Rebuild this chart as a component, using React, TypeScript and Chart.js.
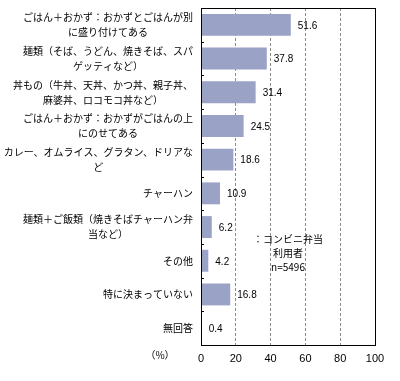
import React, { useEffect, useRef } from "react";
import { Chart, registerables } from "chart.js";

Chart.register(...registerables);

const categories: string[][] = [
  ["ごはん＋おかず：おかずとごはんが別", "に盛り付けてある"],
  ["麺類（そば、うどん、焼きそば、スパ", "ゲッティなど）"],
  ["丼もの（牛丼、天丼、かつ丼、親子丼、", "麻婆丼、ロコモコ丼など）"],
  ["ごはん＋おかず：おかずがごはんの上", "にのせてある"],
  ["カレー、オムライス、グラタン、ドリアな", "ど"],
  ["チャーハン"],
  ["麺類＋ご飯類（焼きそばチャーハン弁", "当など）"],
  ["その他"],
  ["特に決まっていない"],
  ["無回答"],
];
const values: number[] = [51.6, 37.8, 31.4, 24.5, 18.6, 10.9, 6.2, 4.2, 16.8, 0.4];
const xTicks: number[] = [0, 20, 40, 60, 80, 100];
const legendLines: string[] = ["：コンビニ弁当", "利用者", "n=5496"];
const unitLabel = "（%）";

const CJK = '"Noto Sans CJK JP", sans-serif';

const customDraw = {
  id: "customDraw",
  afterDraw(chart: any) {
    const ctx = chart.ctx;
    const area = chart.chartArea;
    const y = chart.scales.y;
    const x = chart.scales.x;
    ctx.save();
    // category labels
    ctx.font = `10px ${CJK}`;
    ctx.fillStyle = "#000";
    ctx.textBaseline = "middle";
    ctx.textAlign = "center";
    const rightEdge = area.left - 8;
    const lineH = 15;
    categories.forEach((lines, i) => {
      const cy = y.getPixelForTick(i);
      const w = Math.max(...lines.map((l) => ctx.measureText(l).width));
      const cx = rightEdge - w / 2;
      const start = cy - ((lines.length - 1) * lineH) / 2;
      lines.forEach((l, j) => ctx.fillText(l, cx, start + j * lineH));
    });
    // value labels
    ctx.font = "10px 'Liberation Sans', sans-serif";
    ctx.textAlign = "left";
    values.forEach((v, i) => {
      ctx.fillText(v.toFixed(1), x.getPixelForValue(v) + 7, y.getPixelForTick(i) + 1);
    });
    // box border
    ctx.strokeStyle = "#000";
    ctx.lineWidth = 1;
    ctx.strokeRect(Math.round(area.left) + 0.5, Math.round(area.top) + 0.5, Math.round(area.right - area.left), Math.round(area.bottom - area.top));
    // inner tick marks at category boundaries
    ctx.beginPath();
    for (let i = 0; i < categories.length - 1; i++) {
      const by = Math.round((y.getPixelForTick(i) + y.getPixelForTick(i + 1)) / 2) + 0.5;
      ctx.moveTo(area.left, by);
      ctx.lineTo(area.left + 3, by);
    }
    ctx.stroke();
    // legend note
    ctx.font = `10px ${CJK}`;
    ctx.textAlign = "center";
    const lx = x.getPixelForValue(50);
    const ly = y.getPixelForValue(6.35);
    legendLines.forEach((l, j) => ctx.fillText(l, lx, ly + j * 14));
    // unit
    ctx.fillText(unitLabel, 160, area.bottom + 10);
    ctx.restore();
  },
};

export default function App() {
  const ref = useRef<HTMLCanvasElement>(null);
  useEffect(() => {
    if (!ref.current) return;
    const chart = new Chart(ref.current, {
      type: "bar",
      data: {
        labels: categories.map((c) => c.join("")),
        datasets: [
          {
            data: values,
            backgroundColor: "#9AA2C6",
            borderWidth: 0,
            barPercentage: 0.65,
            categoryPercentage: 1,
          },
        ],
      },
      options: {
        indexAxis: "y",
        animation: false,
        responsive: true,
        maintainAspectRatio: false,
        layout: { padding: { left: 0, right: 25, top: 8, bottom: 0 } },
        plugins: { legend: { display: false }, tooltip: { enabled: false } },
        scales: {
          x: {
            type: "linear",
            min: 0,
            max: 100,
            afterBuildTicks: (s: any) => {
              s.ticks = xTicks.map((v) => ({ value: v }));
            },
            afterFit: (s: any) => {
              s.height = 36;
            },
            ticks: {
              font: { family: "'Liberation Sans', sans-serif", size: 11 },
              color: "#000",
              padding: 7,
              maxRotation: 0,
            },
            grid: {
              drawTicks: false,
              color: (c: any) => (c.tick && (c.tick.value === 0 || c.tick.value === 100) ? "rgba(0,0,0,0)" : "#8a8a8a"),
              lineWidth: 1,
            },
            border: { display: false, dash: [3, 2] },
          },
          y: {
            type: "category",
            afterFit: (s: any) => {
              s.width = 201;
            },
            ticks: { display: false },
            grid: { display: false },
            border: { display: false },
          },
        },
      },
      plugins: [customDraw],
    });
    return () => chart.destroy();
  }, []);
  return (
    <div style={{ position: "absolute", left: 0, top: 0, width: 400, height: 381, background: "#fff" }}>
      <canvas ref={ref} />
    </div>
  );
}
